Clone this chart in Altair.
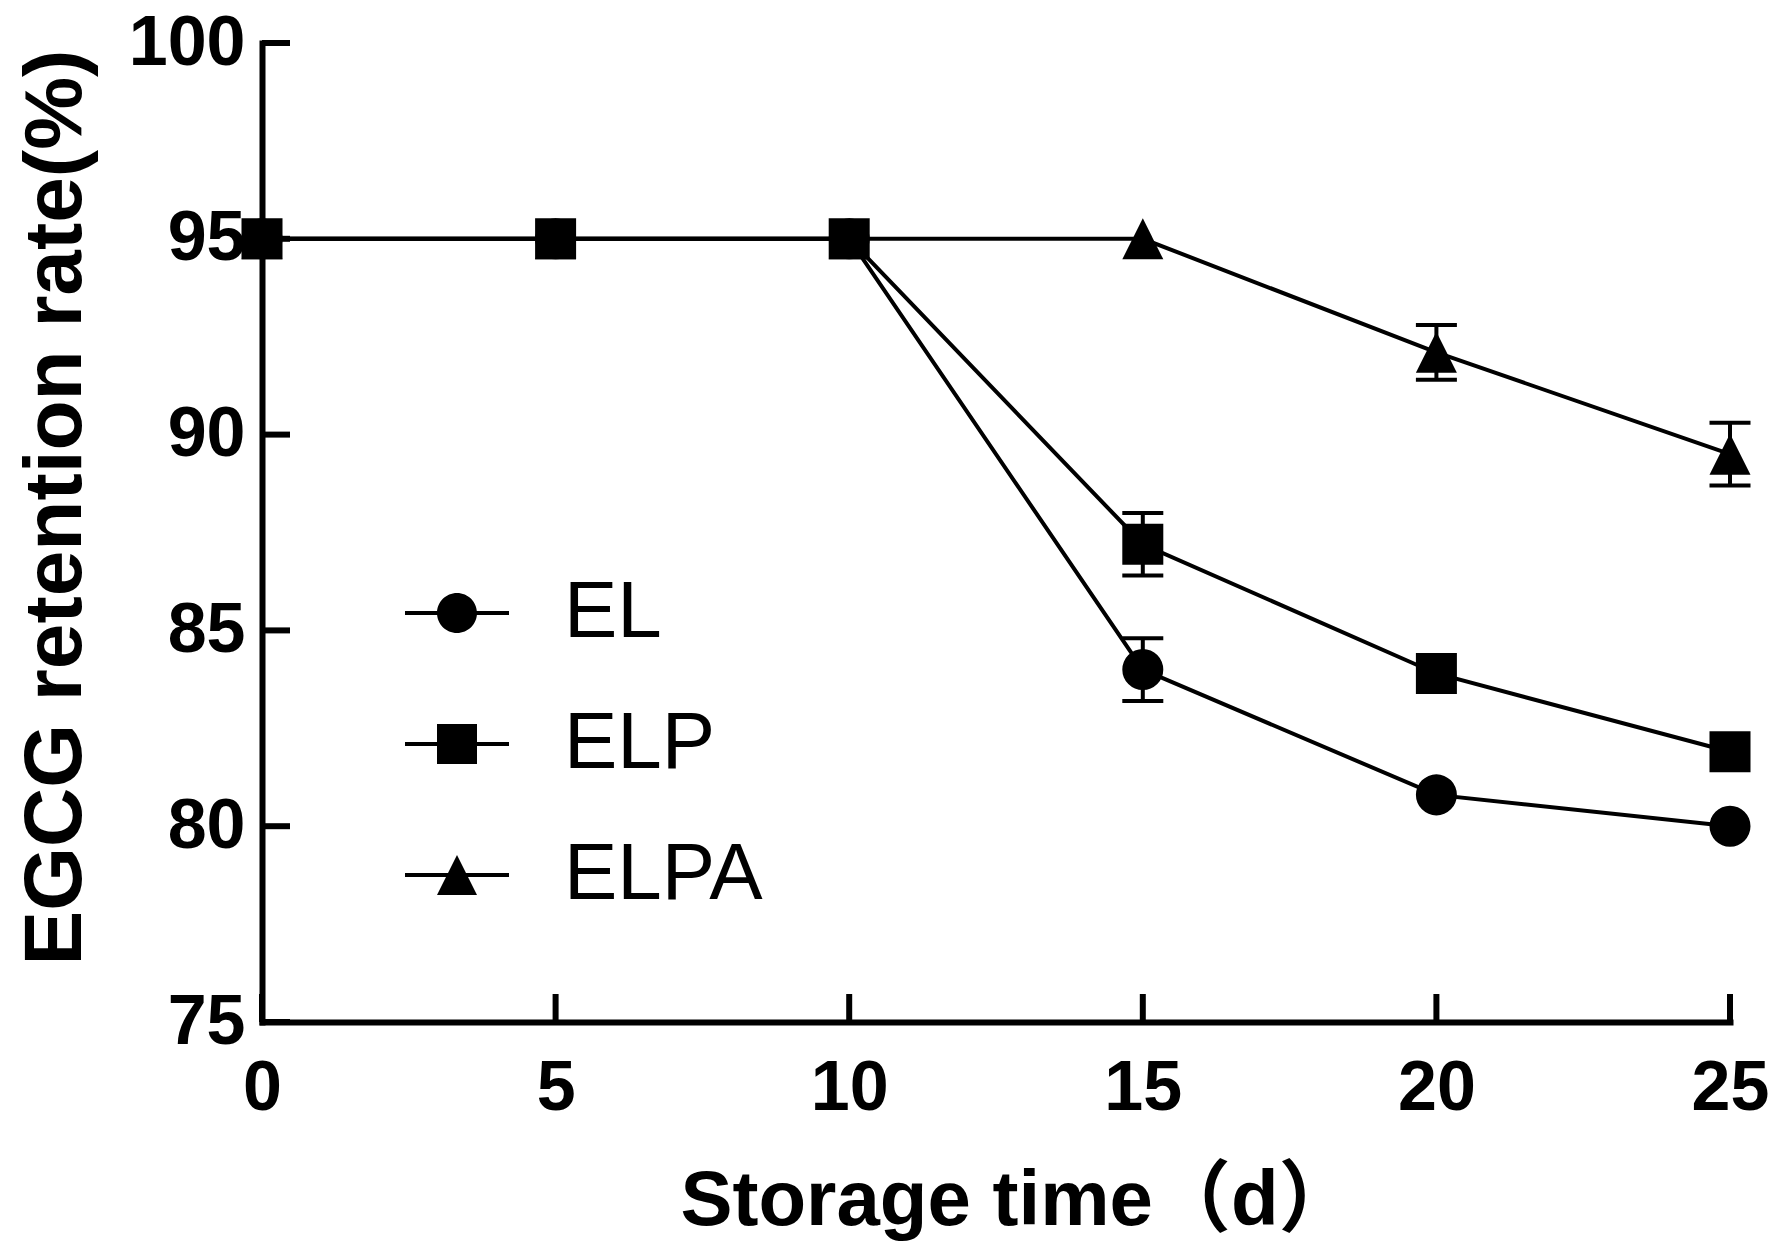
import altair as alt
import pandas as pd

# ---------------- data ----------------
days = [0, 5, 10, 15, 20, 25]
series_names = ["EL", "ELP", "ELPA"]
el_values = [95.0, 95.0, 95.0, 84.0, 80.8, 80.0]
elp_values = [95.0, 95.0, 95.0, 87.2, 83.9, 81.9]
elpa_values = [95.0, 95.0, 95.0, 95.0, 92.1, 89.5]
el_err = [0, 0, 0, 0.8, 0, 0]
elp_err = [0, 0, 0, 0.8, 0, 0]
elpa_err = [0, 0, 0, 0, 0.7, 0.8]
x_tick_values = [0, 5, 10, 15, 20, 25]
y_tick_values = [75, 80, 85, 90, 95, 100]

rows = []
for name, vals, errs in zip(series_names,
                            [el_values, elp_values, elpa_values],
                            [el_err, elp_err, elpa_err]):
    for d, v, e in zip(days, vals, errs):
        rows.append({"series": name, "day": d, "retention": v,
                     "lo": v - e, "hi": v + e, "err": e})
df = pd.DataFrame(rows)
xt = pd.DataFrame({"day": x_tick_values})
yt = pd.DataFrame({"retention": y_tick_values})

# ---------------- style ----------------
FONT = "Liberation Sans, Arial, 'Noto Sans CJK SC'"
W, H = 1468, 979
TICK_LEN = 28
AXW = 6
LW = 4

xs = alt.Scale(domain=[0, 25], nice=False, zero=False)
ys = alt.Scale(domain=[75, 100], nice=False, zero=False)

x_axis = alt.Axis(values=x_tick_values, format="d", title="Storage time（d）",
                  grid=False, ticks=False, tickSize=0,
                  domainColor="black", domainWidth=AXW, domainCap="square",
                  labelFont=FONT, labelFontSize=70, labelFontWeight="bold",
                  labelColor="black", labelPadding=32, labelBaseline="top",
                  labelFlush=False, labelOverlap=False,
                  titleFont=FONT, titleFontSize=78, titleFontWeight="bold",
                  titleColor="black", titleX=756, titleY=202,
                  titleBaseline="alphabetic", titleAlign="center")
y_axis = alt.Axis(values=y_tick_values, format="d", title="EGCG retention rate(%)",
                  grid=False, ticks=False, tickSize=0,
                  domainColor="black", domainWidth=AXW, domainCap="square",
                  labelFont=FONT, labelFontSize=70, labelFontWeight="bold",
                  labelColor="black", labelPadding=17, labelBaseline="middle",
                  labelAlign="right", labelFlush=False, labelOverlap=False,
                  titleFont=FONT, titleFontSize=82, titleFontWeight="bold",
                  titleColor="black", titleAngle=270, titleX=-182, titleY=464,
                  titleBaseline="alphabetic", titleAlign="center")

X = alt.X("day:Q", scale=xs, axis=x_axis, title="Storage time（d）")


def Y(field):
    return alt.Y(field, scale=ys, axis=y_axis, title="EGCG retention rate(%)")


tri = "M0,-1L1,1L-1,1Z"
bar = "M-2.6,-0.1H2.6V0.1H-2.6Z"
legend_paths = [
    bar + "M-1,0A1,1 0 1,1 1,0A1,1 0 1,1 -1,0Z",
    bar + "M-1,-1H1V1H-1Z",
    bar + tri,
]

# inward tick marks
ytick_rules = alt.Chart(yt).mark_rule(color="black", strokeWidth=AXW, opacity=1).encode(
    y=Y("retention:Q"), x=alt.value(0), x2=alt.value(TICK_LEN))
xtick_rules = alt.Chart(xt).mark_rule(color="black", strokeWidth=AXW, opacity=1).encode(
    x=X, y=alt.value(H - TICK_LEN), y2=alt.value(H))

base = alt.Chart(df)
lines = base.mark_line(color="black", strokeWidth=LW, opacity=1).encode(
    x=X, y=Y("retention:Q"), detail="series:N")

errbars = base.transform_filter("datum.err > 0").mark_rule(
    color="black", strokeWidth=LW, opacity=1).encode(
    x=X, y=Y("lo:Q"), y2="hi:Q")

caps = base.transform_filter("datum.err > 0").transform_fold(
    ["lo", "hi"], as_=["end", "cap"]).mark_tick(
    color="black", orient="horizontal", size=41, thickness=LW, opacity=1).encode(
    x=X, y=Y("cap:Q"))

points = base.mark_point(filled=True, color="black", opacity=1, size=1681).encode(
    x=X, y=Y("retention:Q"),
    shape=alt.Shape("series:N",
                    scale=alt.Scale(domain=series_names, range=["circle", "square", tri]),
                    legend=None))

legend_layer = base.transform_filter("datum.day < 0").mark_point(
    filled=True, color="black", opacity=1, size=1600).encode(
    x=X, y=Y("retention:Q"),
    shape=alt.Shape("series:N",
                    scale=alt.Scale(domain=series_names, range=legend_paths),
                    legend=alt.Legend(title=None, orient="none", legendX=155, legendY=530,
                                      labelFont=FONT, labelFontSize=80,
                                      labelFontWeight="normal", labelColor="black",
                                      labelOffset=67, labelLimit=500, rowPadding=51,
                                      symbolSize=1600, symbolFillColor="black",
                                      symbolStrokeWidth=0, symbolOpacity=1, padding=0)))

chart = alt.layer(lines, ytick_rules, xtick_rules, errbars, caps, points, legend_layer
                  ).resolve_scale(shape="independent").properties(
    width=W, height=H,
    autosize=alt.AutoSizeParams(type="none"),
    padding={"left": 254, "top": 35, "right": 46, "bottom": 226},
    background="white",
).configure_view(stroke=None)

chart.save("out.html", embed_options={"renderer": "svg", "actions": False})
